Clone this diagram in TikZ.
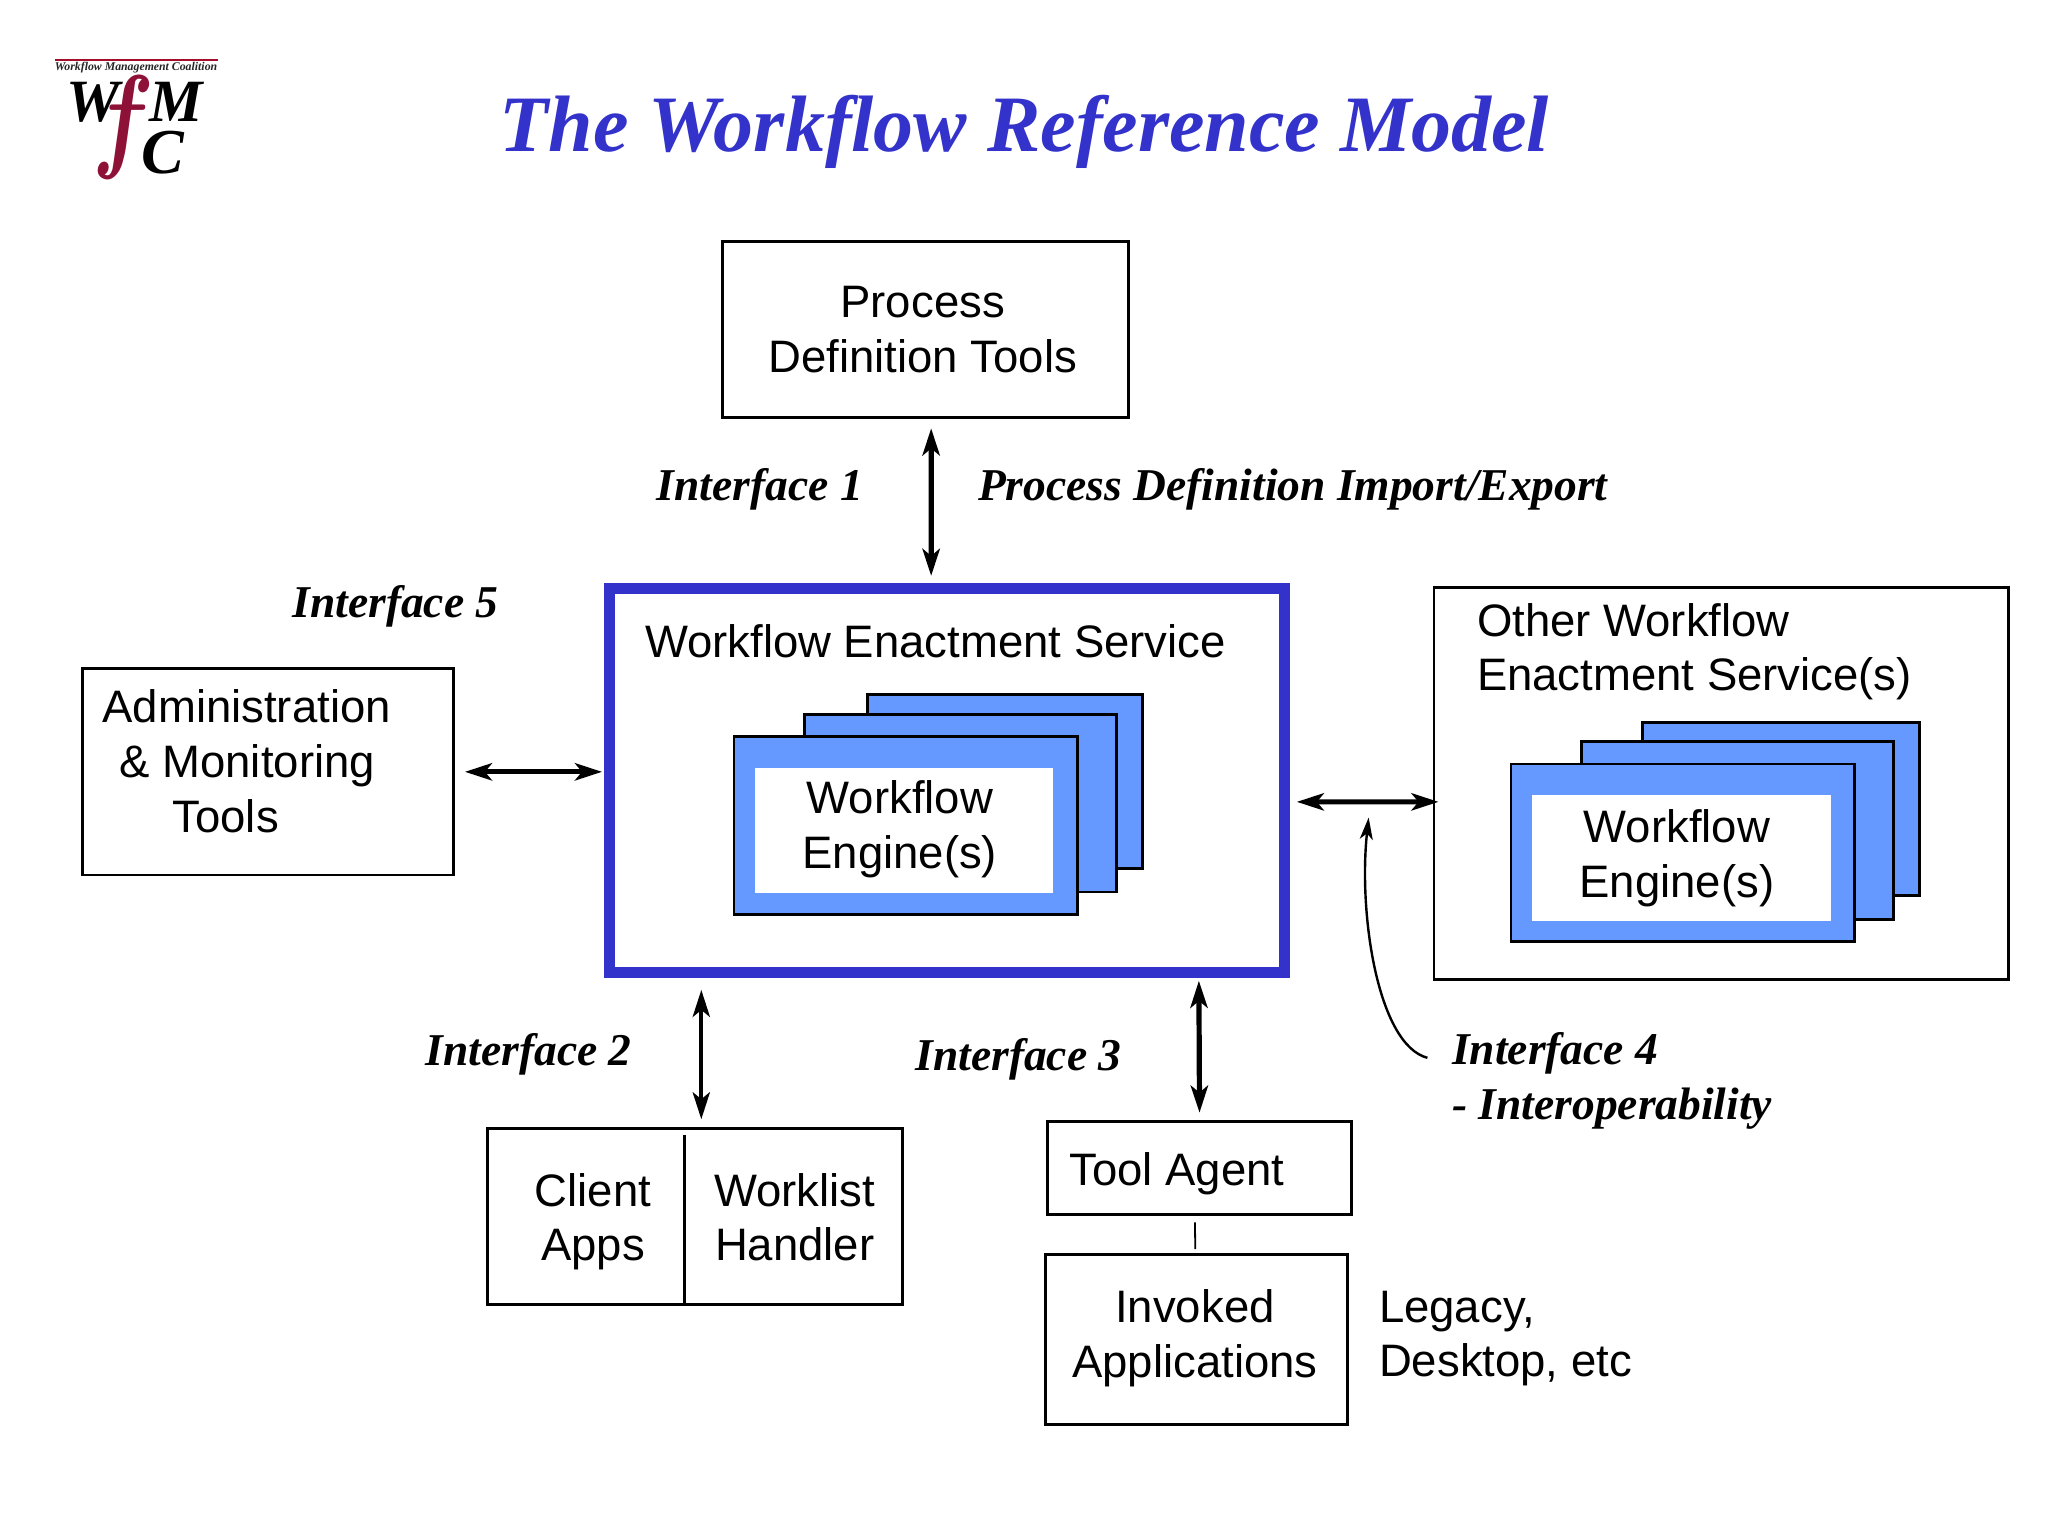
\documentclass[tikz,border=0pt]{standalone}
\usepackage{fontspec}
\setmainfont{Liberation Sans}
\newfontfamily\serifbi{Liberation Serif}[BoldFont={Liberation Serif Bold},ItalicFont={Liberation Serif Italic},BoldItalicFont={Liberation Serif Bold Italic}]
\usetikzlibrary{arrows.meta,calc}
\definecolor{wfblue}{HTML}{3333CC}
\definecolor{wfengine}{HTML}{6699FF}
\definecolor{wfred}{HTML}{8E1238}
\newcommand{\rectnode}[6]{%
  \node[#6, minimum width={(#4-#2)*0.653pt}, minimum height={(#5-#3)*0.653pt}] (#1) at ({(#2+#4)/2},{(#3+#5)/2}) {};}
\tikzset{
  x=0.653pt, y=-0.653pt,
  boxshape/.style={draw=black, line width=1.45pt, fill=white, inner sep=0pt, outer sep=0pt},
  engine/.style={boxshape, fill=wfengine},
  enginewhite/.style={fill=white, inner sep=0pt, outer sep=0pt},
  wesbox/.style={draw=wfblue, line width=5.4pt, fill=white, inner sep=0pt, outer sep=0pt},
  lbl/.style={inner sep=0pt, outer sep=0pt, font=\fontsize{22.75}{27.4}\selectfont},
  lblc/.style={lbl, align=center},
  lbll/.style={lbl, align=left, anchor=west},
  iface/.style={inner sep=0pt, outer sep=0pt, align=left, font=\serifbi\bfseries\itshape\fontsize{22.75}{27.4}\selectfont},
  ifacel/.style={iface, anchor=west},
  dbl/.style={line width=2.6pt, {Stealth[length=13.5pt,width=8.6pt,inset=3.5pt]}-{Stealth[length=13.5pt,width=8.6pt,inset=3.5pt]}},
  dbll/.style={dbl, line width=2.4pt},
  logot/.style={inner sep=0pt, outer sep=0pt},
}
\begin{document}
\begin{tikzpicture}
\useasboundingbox (0,0) rectangle (1568.2,1176);
\fill[white] (0,0) rectangle (1568.2,1176);

% logo
\node[logot, anchor=west, text=black!85, font=\serifbi\bfseries\itshape\fontsize{5.9}{7}\selectfont] (logotext) at (42,52) {Workflow Management Coalition};
\draw[wfred!80!red, line width=0.8pt] ($(logotext.west)+(0,-6)$) -- ($(logotext.west)+(125,-6)$);
\node[logot, text=black, font=\serifbi\bfseries\itshape\fontsize{30}{30}\selectfont] (wlogo) at (71.5,78) {W};
\node[logot, text=black, font=\serifbi\bfseries\itshape\fontsize{30}{30}\selectfont] (mlogo) at (134.6,78) {M};
\node[logot, text=black, font=\serifbi\bfseries\itshape\fontsize{32}{32}\selectfont] (clogo) at (125,117) {C};
\node[logot, anchor=base west, text=wfred, xscale=2.2, yscale=2.8, font=\fontsize{20}{20}\selectfont\boldmath] (flogo) at (71,119.5) {$f$};

% title
\node[inner sep=0pt, outer sep=0pt, text=wfblue, font=\serifbi\bfseries\itshape\fontsize{40}{40}\selectfont] (title) at (784.5,101) {The Workflow Reference Model};

% process definition tools
\rectnode{pdt}{553}{185}{864}{320}{boxshape}
\node[lblc] (pdttext) at (706.5,252.5) {Process\\Definition Tools};

% interface labels
\node[ifacel] (if1) at (503,374.5) {Interface 1};
\node[ifacel] (pdie) at (749,374.5) {Process Definition Import/Export};
\node[ifacel] (if5) at (224,464.5) {Interface 5};
\node[ifacel] (if2) at (326,807.5) {Interface 2};
\node[ifacel] (if3) at (701,811.5) {Interface 3};
\node[ifacel] (if4) at (1112,827.5) {Interface 4\\- Interoperability};

% admin
\rectnode{admin}{63}{512}{347}{670}{boxshape}
\node[lbll] (admintext) at (78.5,583) {Administration\\\hspace*{8.5pt}\& Monitoring\\\hspace*{35pt}Tools};

% workflow enactment service
\rectnode{wes}{466.5}{450.5}{983.5}{744.5}{wesbox}
\node[lbl, anchor=west] (westext) at (494,491) {Workflow Enactment Service};
\rectnode{e1c}{664}{532}{875}{665}{engine}
\rectnode{e1b}{616}{547}{855}{683}{engine}
\rectnode{e1a}{562}{564}{825}{700}{engine}
\rectnode{e1w}{578}{588}{806}{684}{enginewhite}
\node[lblc] (e1text) at (689,635) {Workflow\\Engine(s)};

% other service
\rectnode{other}{1098}{450}{1538}{750}{boxshape}
\node[lbll] (othertext) at (1131,499) {Other Workflow\\Enactment Service(s)};
\rectnode{e2c}{1258}{553}{1470}{686}{engine}
\rectnode{e2b}{1211}{568}{1450}{704}{engine}
\rectnode{e2a}{1157}{585}{1420}{721}{engine}
\rectnode{e2w}{1173}{609}{1402}{705}{enginewhite}
\node[lblc] (e2text) at (1284,657) {Workflow\\Engine(s)};

% client
\rectnode{client}{373}{864}{691}{999}{boxshape}
\draw[line width=1.45pt] ($(client.north)+(-8,5)$) -- ($(client.south)+(-8,1)$);
\node[lblc] (clienttext) at (454,935.5) {Client\\Apps};
\node[lblc] (worklisttext) at (608.5,932) {Worklist\\Handler};

% tool agent
\rectnode{tool}{802}{859}{1035}{930}{boxshape}
\node[lbl, anchor=west] (tooltext) at (819,899) {Tool Agent};
\rectnode{invoked}{800.5}{960.5}{1032}{1090.5}{boxshape}
\node[lblc] (invtext) at (915,1025) {Invoked\\Applications};
\node[lbll] (legacy) at (1056,1025) {Legacy,\\Desktop, etc};
\draw[line width=0.9pt] ($(tool.south)+(-3.5,6)$) -- ($(invoked.north)+(-1,-4)$);

% connectors
\draw[dbl] ($(pdt.south)+(4.5,8)$) -- ($(wes.north)+(-12,-9.5)$);
\draw[dbll] ($(admin.east)+(9,0)$) -- ($(wes.west)+(-5.5,-6.5)$);
\draw[dbll] ($(wes.east)+(9.5,16.5)$) -- ($(other.west)+(3.5,14)$);
\draw[dbl, line width=1.9pt] ($(wes.south)+(-188,13.5)$) -- ($(client.north)+(5,-7)$);
\draw[dbl] ($(wes.south)+(193,6.5)$) -- ($(tool.north)+(0,-7)$);
\draw[line width=1.2pt, -{Stealth[length=11pt,width=6.5pt,inset=3pt]}] ($(if4.west)+(-19,-17.5)$) .. controls ($(if4.west)+(-57,-27.5)$) and ($(if4.west)+(-72,-127.5)$) .. ($(wes.east)+(64.5,28.5)$);
\end{tikzpicture}
\end{document}
